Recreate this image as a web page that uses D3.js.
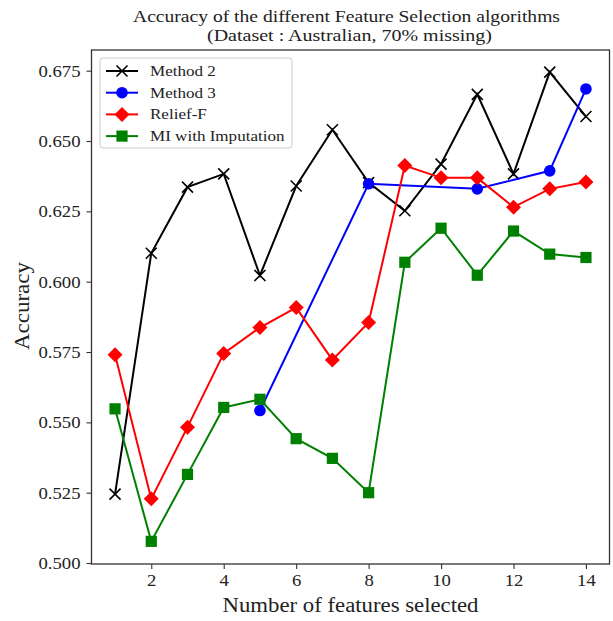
<!DOCTYPE html>
<html><head><meta charset="utf-8">
<script src="https://cdn.jsdelivr.net/npm/d3@7"></script>
<style>body{margin:0;background:#fff}svg{display:block}text{font-family:"Liberation Serif","DejaVu Serif",serif;fill:#222}</style>
</head><body><svg id="c" width="613" height="621"></svg>
<script>
const features = [1,2,3,4,5,6,7,8,9,10,11,12,13,14];
const method2 = [0.5245,0.6101,0.6336,0.6383,0.6022,0.6340,0.6540,0.6352,0.6252,0.6418,0.6666,0.6383,0.6745,0.6587];
const method3X = [5,8,11,13,14];
const method3 = [0.5542,0.6348,0.6330,0.6394,0.6685];
const reliefF = [0.5740,0.5228,0.5483,0.5745,0.5837,0.5908,0.5722,0.5855,0.6413,0.6369,0.6369,0.6265,0.6330,0.6354];
const miImp = [0.5548,0.5077,0.5315,0.5553,0.5582,0.5442,0.5372,0.5250,0.6069,0.6190,0.6023,0.6180,0.6098,0.6086];
const xTicks = [2,4,6,8,10,12,14];
const yTicks = [0.500,0.525,0.550,0.575,0.600,0.625,0.650,0.675];
const seriesNames = ["Method 2","Method 3","Relief-F","MI with Imputation"];
const title1 = "Accuracy of the different Feature Selection algorithms";
const title2 = "(Dataset : Australian, 70% missing)";

const svg = d3.select("#c");
const L=91.5, R=609.5, T=50, B=564;
const x = d3.scaleLinear().domain([0.35,14.65]).range([L,R]);
const y = d3.scaleLinear().domain([0.49965,0.68235]).range([B,T]);

const series = [
  {name:seriesNames[0], xs:features, ys:method2, color:"#000000", marker:"x"},
  {name:seriesNames[1], xs:method3X, ys:method3, color:"#0000ff", marker:"circle"},
  {name:seriesNames[2], xs:features, ys:reliefF, color:"#ff0000", marker:"diamond"},
  {name:seriesNames[3], xs:features, ys:miImp, color:"#008000", marker:"square"}
];

function stretch(sel, f){
  sel.each(function(){
    const w = this.getComputedTextLength();
    d3.select(this).attr("textLength", w*f).attr("lengthAdjust","spacingAndGlyphs");
  });
}

function drawMarker(g, type, cx, cy, color){
  if(type==="x"){
    const s=5.5;
    g.append("path").attr("d",`M${cx-s},${cy-s}L${cx+s},${cy+s}M${cx-s},${cy+s}L${cx+s},${cy-s}`)
      .attr("stroke",color).attr("stroke-width",1.6).attr("fill","none");
  } else if(type==="circle"){
    g.append("circle").attr("cx",cx).attr("cy",cy).attr("r",5.8).attr("fill",color);
  } else if(type==="diamond"){
    const s=7.5;
    g.append("path").attr("d",`M${cx},${cy-s}L${cx+s},${cy}L${cx},${cy+s}L${cx-s},${cy}Z`).attr("fill",color);
  } else if(type==="square"){
    const s=5.6;
    g.append("rect").attr("x",cx-s).attr("y",cy-s).attr("width",2*s).attr("height",2*s).attr("fill",color);
  }
}

const plot = svg.append("g");
const line = d3.line().x(d=>x(d[0])).y(d=>y(d[1]));
series.forEach(s=>{
  const pts = s.xs.map((v,i)=>[v,s.ys[i]]);
  plot.append("path").datum(pts).attr("d",line).attr("fill","none").attr("stroke",s.color).attr("stroke-width",2);
  pts.forEach(p=>drawMarker(plot,s.marker,x(p[0]),y(p[1]),s.color));
});

// axes
const xAxis = d3.axisBottom(x).tickValues(xTicks).tickSize(5).tickPadding(5).tickFormat(d3.format("d"));
const yAxis = d3.axisLeft(y).tickValues(yTicks).tickSize(5).tickPadding(6).tickFormat(d3.format(".3f"));
const gx = svg.append("g").attr("transform",`translate(0,${B})`).call(xAxis);
const gy = svg.append("g").attr("transform",`translate(${L},0)`).call(yAxis);
[gx,gy].forEach(g=>{
  g.select(".domain").remove();
  g.selectAll(".tick line").attr("stroke","#333").attr("stroke-width",1.1);
  g.selectAll(".tick text").attr("font-size",17).attr("fill","#222").style("font-family",'"Liberation Serif",serif');
  stretch(g.selectAll(".tick text"),1.1);
});
svg.append("rect").attr("x",L).attr("y",T).attr("width",R-L).attr("height",B-T)
  .attr("fill","none").attr("stroke","#333").attr("stroke-width",1.3);

// titles
svg.append("text").attr("x",(L+R)/2 - 4).attr("y",21.5).attr("text-anchor","middle").attr("font-size",17)
  .attr("textLength",427).attr("lengthAdjust","spacingAndGlyphs").text(title1);
svg.append("text").attr("x",(L+R)/2 - 1).attr("y",41).attr("text-anchor","middle").attr("font-size",17)
  .attr("textLength",285).attr("lengthAdjust","spacingAndGlyphs").text(title2);
svg.append("text").attr("x",(L+R)/2).attr("y",612).attr("text-anchor","middle").attr("font-size",20.5)
  .attr("textLength",256).attr("lengthAdjust","spacingAndGlyphs").text("Number of features selected");
svg.append("text").attr("transform",`translate(29,${(T+B)/2 - 1}) rotate(-90)`).attr("text-anchor","middle").attr("font-size",20.5)
  .attr("textLength",88).attr("lengthAdjust","spacingAndGlyphs").text("Accuracy");

// legend
const lg = svg.append("g");
lg.append("rect").attr("x",100).attr("y",58).attr("width",192).attr("height",90).attr("rx",3)
  .attr("fill","#fff").attr("fill-opacity",0.8).attr("stroke","#ccc").attr("stroke-width",1);
series.forEach((s,i)=>{
  const yy = 71 + i*21.7;
  lg.append("line").attr("x1",106).attr("x2",138).attr("y1",yy).attr("y2",yy).attr("stroke",s.color).attr("stroke-width",2);
  drawMarker(lg,s.marker,122,yy,s.color);
  const t = lg.append("text").attr("x",150).attr("y",yy+5).attr("font-size",15.5).text(s.name);
  stretch(t,1.1);
});
</script></body></html>
